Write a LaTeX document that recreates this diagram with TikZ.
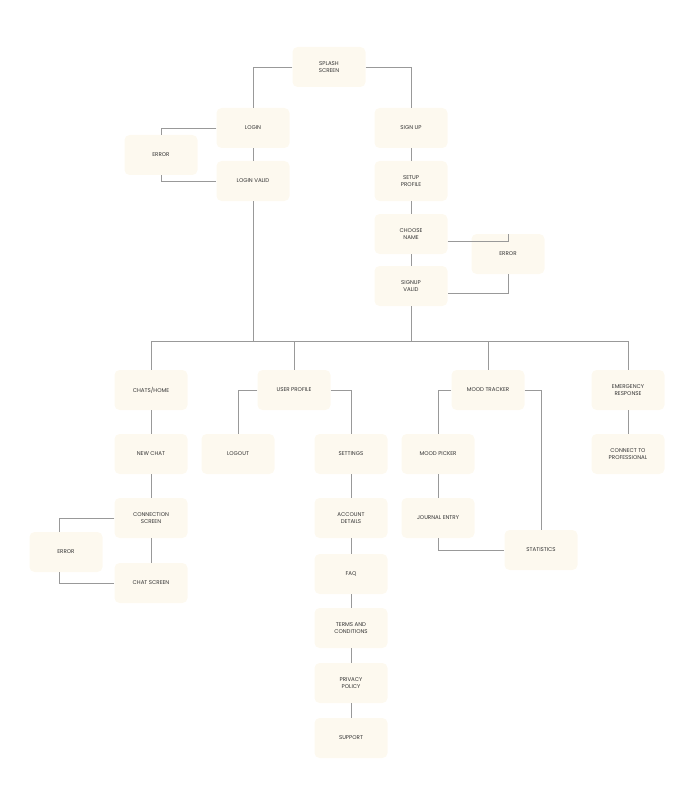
\documentclass[tikz,border=0pt]{standalone}
\usepackage{fontspec}
\setmainfont{Poppins}
\tikzset{
  screen/.style={fill=cream, rounded corners=5pt, minimum width=73pt, minimum height=40pt,
    align=center, font=\fontsize{5.5}{7}\selectfont, text=black!80},
  link/.style={draw=black!40, line width=0.8pt}
}
\definecolor{cream}{HTML}{FDF9EF}
\begin{document}
\begin{tikzpicture}[x=1pt,y=-1pt]
\useasboundingbox (0,0) rectangle (694,805);
% top
\node[screen] (splash) at (329,67) {SPLASH\\SCREEN};
\node[screen] (login) at (253,128) {LOGIN};
\node[screen] (err1) at (161,155) {ERROR};
\node[screen] (lvalid) at (253,181) {LOGIN VALID};
\node[screen] (signup) at (411,128) {SIGN UP};
\node[screen] (setup) at (411,181) {SETUP\\PROFILE};
\node[screen] (choose) at (411,234) {CHOOSE\\NAME};
\node[screen] (err2) at (508,254) {ERROR};
\node[screen] (svalid) at (411,286) {SIGNUP\\VALID};
% sections
\node[screen] (chats) at (151,390) {CHATS/HOME};
\node[screen] (user) at (294,390) {USER PROFILE};
\node[screen] (mood) at (488,390) {MOOD TRACKER};
\node[screen] (emerg) at (628,390) {EMERGENCY\\RESPONSE};
% chats
\node[screen] (newchat) at (151,454) {NEW CHAT};
\node[screen] (conn) at (151,518) {CONNECTION\\SCREEN};
\node[screen] (err3) at (66,552) {ERROR};
\node[screen] (chatscr) at (151,583) {CHAT SCREEN};
% user profile
\node[screen] (logout) at (238,454) {LOGOUT};
\node[screen] (settings) at (351,454) {SETTINGS};
\node[screen] (account) at (351,518) {ACCOUNT\\DETAILS};
\node[screen] (faq) at (351,574) {FAQ};
\node[screen] (terms) at (351,628) {TERMS AND\\CONDITIONS};
\node[screen] (privacy) at (351,683) {PRIVACY\\POLICY};
\node[screen] (support) at (351,738) {SUPPORT};
% mood
\node[screen] (picker) at (438,454) {MOOD PICKER};
\node[screen] (journal) at (438,518) {JOURNAL ENTRY};
\node[screen] (stats) at (541,550) {STATISTICS};
% emergency
\node[screen] (connect) at (628,454) {CONNECT TO\\PROFESSIONAL};
\coordinate (busl) at (151,341);
\coordinate (busr) at (628,341);
% links
\draw[link] (splash.west) -| (login.north);
\draw[link] (splash.east) -| (signup.north);
\draw[link] (login) -- (lvalid);
\draw[link] (login.west) -| (err1.north);
\draw[link] (err1.south) |- (lvalid.west);
\draw[link] (signup) -- (setup);
\draw[link] (setup) -- (choose);
\draw[link] (choose) -- (svalid);
\draw[link] ([yshift=-7pt]choose.east) -| (err2.north);
\draw[link] (err2.south) |- ([yshift=-7pt]svalid.east);
\draw[link] (lvalid.south) -- (lvalid.south |- busl);
\draw[link] (svalid.south) -- (svalid.south |- busl);
\draw[link] (busl) -- (busr);
\foreach \n in {chats,user,mood,emerg}
  \draw[link] (\n.north |- busl) -- (\n.north);
\draw[link] (chats) -- (newchat);
\draw[link] (newchat) -- (conn);
\draw[link] (conn) -- (chatscr);
\draw[link] (conn.west) -| ([xshift=-7pt]err3.north);
\draw[link] ([xshift=-7pt]err3.south) |- (chatscr.west);
\draw[link] (user.west) -| (logout.north);
\draw[link] (user.east) -| (settings.north);
\draw[link] (settings) -- (account);
\draw[link] (account) -- (faq);
\draw[link] (faq) -- (terms);
\draw[link] (terms) -- (privacy);
\draw[link] (privacy) -- (support);
\draw[link] (mood.west) -| (picker.north);
\draw[link] (mood.east) -| (stats.north);
\draw[link] (picker) -- (journal);
\draw[link] (journal.south) |- (stats.west);
\draw[link] (emerg) -- (connect);
\end{tikzpicture}
\end{document}
